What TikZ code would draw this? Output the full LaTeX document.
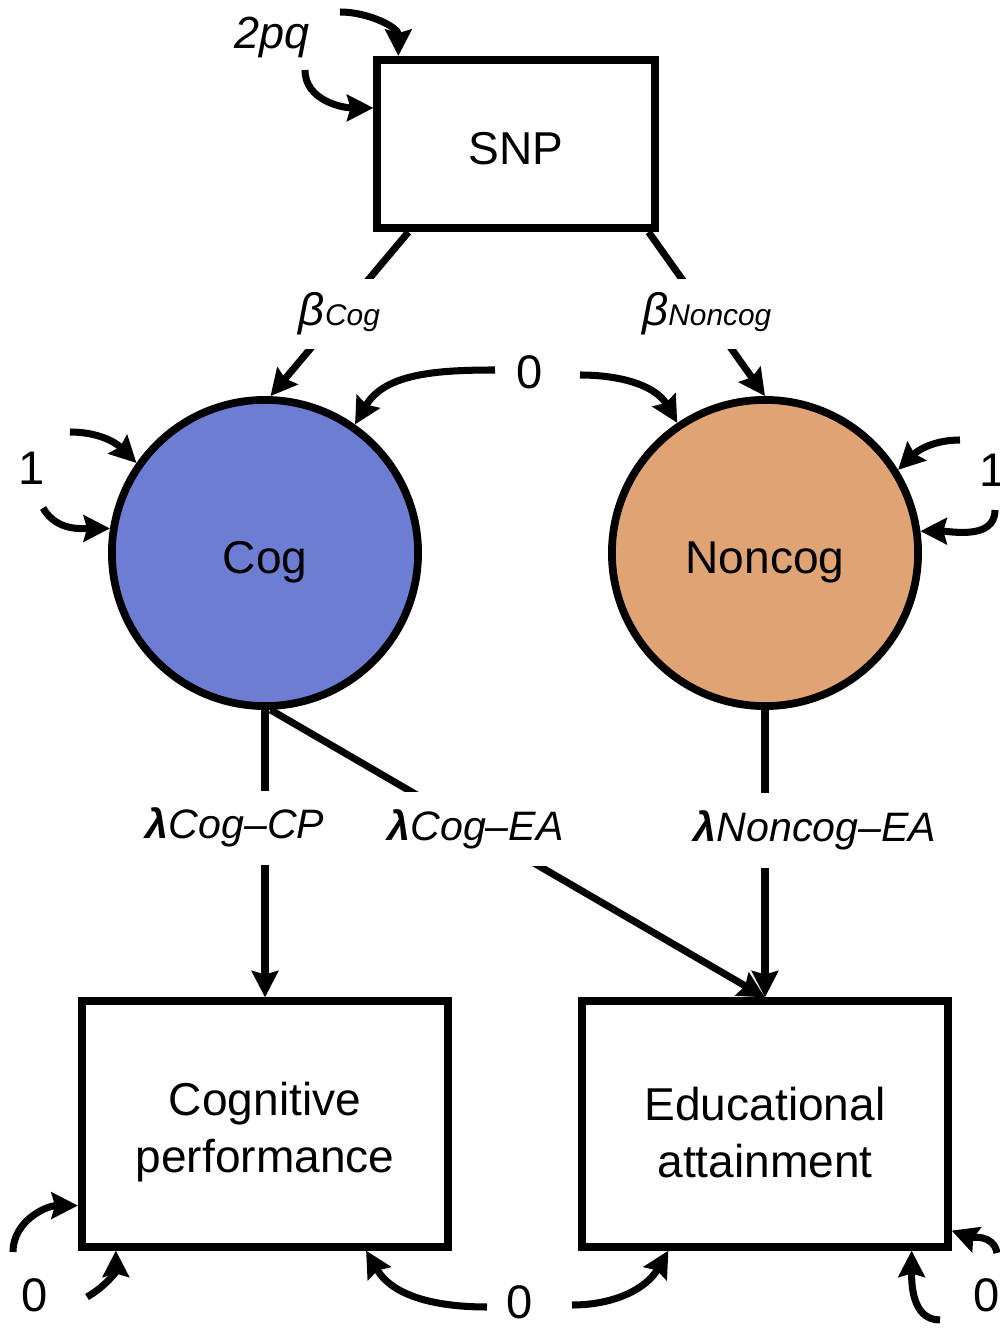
\documentclass[tikz,border=0pt]{standalone}
\usepackage{fontspec}
\setmainfont{Liberation Sans}
\usetikzlibrary{arrows.meta,positioning}
\definecolor{cogblue}{HTML}{6E7DD4}
\definecolor{noncogtan}{HTML}{E0A374}
\tikzset{
  obsbox/.style={rectangle,draw=black,line width=2.3pt,fill=white,align=center,font=\fontsize{13.1}{16.2}\selectfont},
  latent/.style={circle,draw=black,line width=2.2pt,minimum size=3.06cm,inner sep=0pt,text height=0.5cm,text depth=0.1cm,font=\fontsize{13.1}{16.2}\selectfont},
  link/.style={-{Stealth[length=7.5pt,width=7.5pt,inset=1pt]},line width=2pt,black},
  parlabel/.style={font=\fontsize{12.8}{15}\selectfont\itshape,inner sep=0pt},
  numlabel/.style={font=\fontsize{13.4}{15}\selectfont,inner sep=0pt},
  coeflabel/.style={fill=white,inner xsep=4pt,inner ysep=5pt,font=\fontsize{11.7}{14}\selectfont\itshape}
}
\newcommand{\betalab}[1]{{\fontsize{13}{15}\selectfont β}{\fontsize{8.5}{10}\selectfont #1}}

\begin{document}
\begin{tikzpicture}[x=0.01cm,y=0.01cm]
  \useasboundingbox (0,0) rectangle (1000,1329);
  % variables
  \node[obsbox,minimum width=2.77cm,minimum height=1.68cm,text height=0.5cm,text depth=0.1cm] (snp) at (516,1185) {SNP};
  \node[latent,fill=cogblue] (cog) at (265,776) {Cog};
  \node[latent,fill=noncogtan] (noncog) at (765,776) {Noncog};
  \node[obsbox,minimum width=3.66cm,minimum height=2.45cm] (cp) at (265,205) {\rule{0pt}{0.5cm}Cognitive\\performance};
  \node[obsbox,minimum width=3.65cm,minimum height=2.45cm] (ea) at (765,205) {\rule{0pt}{0.5cm}Educational\\attainment};
  % variance and covariance values
  \node[parlabel] (snpvar) at (272,1292) {2pq};
  \node[numlabel] (cogvar) at (32,861) {1};
  \node[numlabel] (noncogvar) at (993,859) {1};
  \node[numlabel] (latcov) at (530,957) {0};
  \node[numlabel] (cpvar) at (35,34) {0};
  \node[numlabel] (rescov) at (520,27) {0};
  \node[numlabel] (eavar) at (987,34) {0};
  \coordinate (snpa) at (340,1317);
  \coordinate (snpb) at (305,1259);
  \coordinate (coga) at (70,897);
  \coordinate (cogb) at (43,821);
  \coordinate (noncoga) at (960,889);
  \coordinate (noncogb) at (995,819);
  \coordinate (covl) at (495,959);
  \coordinate (covr) at (580,954);
  \coordinate (cpa) at (13,77);
  \coordinate (cpb) at (87,32);
  \coordinate (resl) at (487,22);
  \coordinate (resr) at (572,24);
  \coordinate (eaa) at (997,76);
  \coordinate (eab) at (940,9);
  % loops
  \draw[link] (snpa) to[out=0,in=90] ([xshift=0.25cm]snp.north west);
  \draw[link] (snpb) to[out=-90,in=180] ([yshift=-0.52cm]snp.north west);
  \draw[link] (coga) to[out=0,in=135] (cog.145);
  \draw[link] (cogb) to[out=-60,in=180] (cog.171);
  \draw[link] (noncoga) to[out=180,in=45] (noncog.32);
  \draw[link] (noncogb) to[out=-90,in=0] (noncog.8);
  \draw[link] (covl) to[out=180,in=60] (cog.55);
  \draw[link] (covr) to[out=0,in=120] (noncog.124);
  \draw[link] (cpa) to[out=90,in=180] ([yshift=0.45cm]cp.south west);
  \draw[link] (cpb) to[out=30,in=-90] ([xshift=0.38cm]cp.south west);
  \draw[link] (resl) to[out=180,in=-60] ([xshift=-0.86cm]cp.south east);
  \draw[link] (resr) to[out=0,in=-120] ([xshift=0.90cm]ea.south west);
  \draw[link] (eaa) to[out=100,in=-20] ([yshift=0.20cm]ea.south east);
  \draw[link] (eab) to[out=180,in=-90] ([xshift=-0.40cm]ea.south east);
  % paths
  \draw[link] ([xshift=0.35cm]snp.south west) -- node[coeflabel,pos=0.5,inner ysep=4pt] (bcog) {\betalab{Cog}} (cog.88);
  \draw[link] ([xshift=-0.10cm]snp.south east) -- node[coeflabel,pos=0.5,inner ysep=4pt] (bnoncog) {\betalab{Noncog}} (noncog.north);
  \draw[link] (cog.south) -- node[coeflabel,pos=0.41,xshift=-0.3cm] (lcogcp) {{\bfseries λ}Cog–CP} (cp.north);
  \draw[link] (cog.-88) -- node[coeflabel,pos=0.415] (lcogea) {{\bfseries λ}Cog–EA} (ea.north);
  \draw[link] (noncog.south) -- node[coeflabel,pos=0.42,xshift=0.5cm] (lnoncogea) {{\bfseries λ}Noncog–EA} (ea.north);
\end{tikzpicture}
\end{document}
